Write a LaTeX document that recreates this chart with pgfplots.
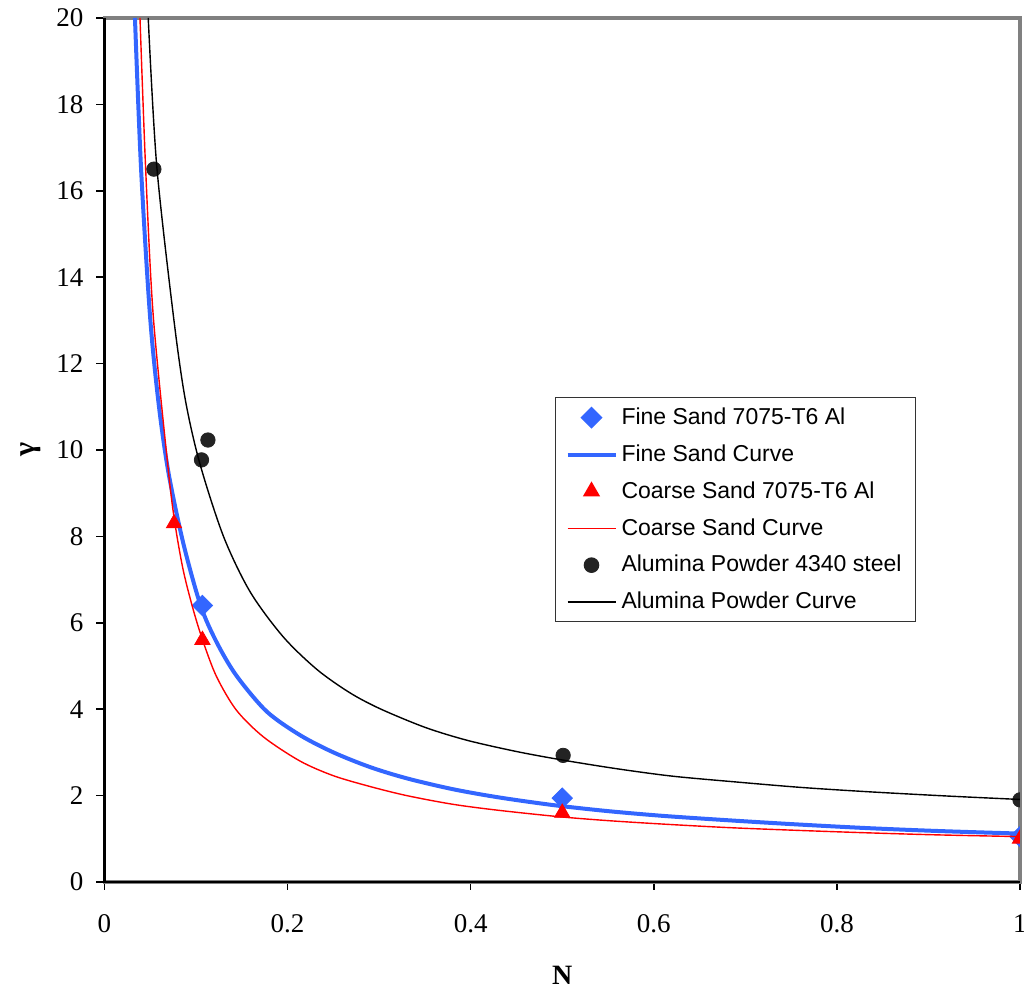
\documentclass[border=0pt]{standalone}
\usepackage{fontspec}
\setmainfont{Liberation Serif}
\newfontfamily\legendfont{Liberation Sans}
\usepackage{pgfplots}
\pgfplotsset{compat=1.18}

\definecolor{fineblue}{RGB}{51,102,255}
\definecolor{alumina}{RGB}{35,35,35}
\definecolor{framegray}{RGB}{128,128,128}

\pgfplotsset{
  markleg/.style={legend image code/.code={\draw[##1] plot coordinates {(12pt,0pt)};}},
  lineleg/.style={legend image code/.code={\draw[##1] (0pt,0pt) -- (24pt,0pt);}},
}

\begin{document}
\begin{tikzpicture}
\begin{axis}[
  scale only axis,
  width=457.75pt, height=432pt,
  xmin=0, xmax=1, ymin=0, ymax=20,
  xtick={0,0.2,0.4,0.6,0.8,1},
  ytick={0,2,4,6,8,10,12,14,16,18,20},
  xtick pos=bottom, ytick pos=left,
  tick align=outside, major tick length=4pt,
  tick style={black, line width=0.8pt},
  axis line style={draw=framegray, line width=1.6pt},
  /pgf/number format/assume math mode=true,
  ticklabel style={font=\fontsize{13.5}{15}\selectfont},
  xticklabel style={yshift=-9pt},
  yticklabel style={xshift=-3pt},
  xlabel={\textbf{N}},
  ylabel={\textbf{γ}},
  xlabel style={at={(rel axis cs:0.5,-0.1076)}, anchor=center, font=\fontsize{14}{16}\selectfont},
  ylabel style={at={(rel axis cs:-0.081,0.5)}, anchor=center, font=\fontsize{15}{16}\selectfont},
  clip marker paths=true,
  legend style={at={(0.492,0.561)}, anchor=north west, draw=black!80, line width=0.6pt,
    font=\legendfont\fontsize{11.5}{13}\selectfont, inner xsep=5pt, inner ysep=3pt,
    row sep=4.6pt, cells={anchor=west}},
]

% Fine sand, 7075-T6 Al
\addplot[only marks, mark=square*, mark size=3.6pt, color=fineblue,
  mark options={rotate=45}, markleg]
  coordinates {(0.107,6.40) (0.500,1.94) (1.000,1.05)};
\addlegendentry{Fine Sand 7075-T6 Al}

\addplot[fineblue, line width=2pt, smooth, mark=none, lineleg]
  coordinates {
  (0.0333,20.0) (0.040,16.5) (0.0497,13.12) (0.059,11.1) (0.0697,9.50)
  (0.086,7.85) (0.105,6.40) (0.1225,5.55) (0.144,4.78) (0.177,3.95)
  (0.2135,3.40) (0.250,3.00) (0.290,2.66) (0.330,2.40) (0.380,2.15)
  (0.430,1.96) (0.490,1.78) (0.550,1.64) (0.610,1.53) (0.680,1.43)
  (0.750,1.34) (0.830,1.25) (0.910,1.18) (1.000,1.12)};
\addlegendentry{Fine Sand Curve}

% Coarse sand, 7075-T6 Al
\addplot[only marks, mark=triangle*, mark size=4.4pt, color=red, markleg]
  coordinates {(0.076,8.30) (0.107,5.60) (0.500,1.60) (1.000,1.00)};
\addlegendentry{Coarse Sand 7075-T6 Al}

\addplot[red, line width=0.7pt, smooth, mark=none, lineleg]
  coordinates {
  (0.0388,20.0) (0.045,16.5) (0.0533,13.1) (0.0697,9.54) (0.077,8.30)
  (0.086,7.22) (0.097,6.30) (0.108,5.55) (0.1225,4.75) (0.144,3.98)
  (0.1735,3.36) (0.2135,2.80) (0.250,2.46) (0.290,2.21) (0.330,2.00)
  (0.380,1.80) (0.430,1.66) (0.497,1.51) (0.550,1.42) (0.610,1.34)
  (0.680,1.26) (0.750,1.20) (0.830,1.14) (0.910,1.09) (1.000,1.05)};
\addlegendentry{Coarse Sand Curve}

% Alumina powder, 4340 steel
\addplot[only marks, mark=*, mark size=3.6pt, color=alumina, markleg]
  coordinates {(0.054,16.50) (0.106,9.77) (0.113,10.23) (0.501,2.93) (1.000,1.90)};
\addlegendentry{Alumina Powder 4340 steel}

\addplot[black, line width=0.7pt, smooth, mark=none, lineleg]
  coordinates {
  (0.0478,20.0) (0.057,16.6) (0.0752,13.12) (0.088,11.2) (0.104,9.70)
  (0.130,8.00) (0.159,6.72) (0.195,5.68) (0.232,4.92) (0.268,4.38)
  (0.301,4.01) (0.350,3.58) (0.396,3.28) (0.450,3.02) (0.501,2.82)
  (0.560,2.62) (0.620,2.45) (0.687,2.32) (0.760,2.19) (0.833,2.09)
  (0.920,1.99) (1.000,1.91)};
\addlegendentry{Alumina Powder Curve}

\coordinate (o) at (rel axis cs:0,0);
\coordinate (tl) at (rel axis cs:0,1);
\coordinate (br) at (rel axis cs:1,0);
\coordinate (bbA) at (rel axis cs:-0.1141,-0.125);
\coordinate (bbB) at (rel axis cs:1.0044,1.0208);
\end{axis}
\draw[black, line width=1.2pt] (tl) -- (o) -- (br);
\pgfresetboundingbox
\useasboundingbox (bbA) rectangle (bbB);
\end{tikzpicture}
\end{document}
